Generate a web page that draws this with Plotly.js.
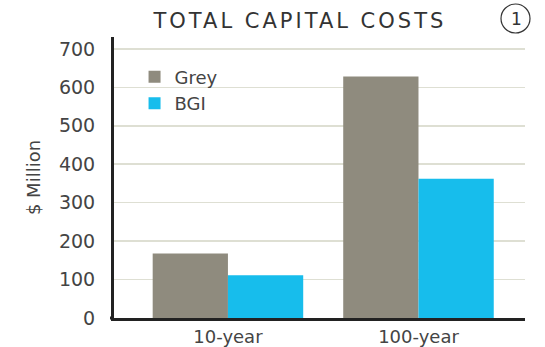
<!DOCTYPE html>
<html><head><meta charset="utf-8">
<script src="https://cdn.plot.ly/plotly-3.0.1.min.js"></script>
<style>html,body{margin:0;padding:0;background:#fff;}#chart{width:545px;height:347px;}</style>
</head><body><div id="chart"></div>
<script>
var categories = ["10-year", "100-year"];
var greyValues = [168, 628];
var bgiValues = [111, 362];
var yTicks = [0, 100, 200, 300, 400, 500, 600, 700];

var font = "'DejaVu Sans', sans-serif";
var traces = [
  {type:"bar", name:"Grey", x:categories, y:greyValues, marker:{color:"#8f8b7e"}},
  {type:"bar", name:"BGI", x:categories, y:bgiValues, marker:{color:"#17bdec"}}
];
var layout = {
  width:545, height:347,
  margin:{l:114, r:20, t:37, b:29},
  paper_bgcolor:"#fff", plot_bgcolor:"#fff",
  barmode:"group", bargap:0.21, bargroupgap:0,
  font:{family:font, color:"#444", size:18},
  showlegend:true,
  legend:{x:0.05, y:0.923, xanchor:"left", yanchor:"top", bgcolor:"rgba(0,0,0,0)",
          font:{size:18, color:"#444"}, itemwidth:30, tracegroupgap:0},
  xaxis:{type:"category", range:[-0.598, 1.559], showgrid:false, zeroline:false,
         showline:true, linecolor:"#222", linewidth:3, ticks:"", tickfont:{size:18, color:"#444"}},
  yaxis:{range:[0, 731], tickvals:yTicks, showgrid:true, gridcolor:"#dedfd3", gridwidth:1.5,
         zeroline:false, showline:true, linecolor:"#222", linewidth:3, ticks:"",
         ticklabelstandoff:12, tickfont:{size:19, color:"#444"},
         title:{text:"$ Million", font:{size:18, color:"#444"}, standoff:14}},
  annotations:[
    {text:"TOTAL CAPITAL COSTS", xref:"paper", yref:"paper", x:0.451, y:1, yanchor:"bottom", xanchor:"center",
     yshift:2, showarrow:false, font:{size:21, color:"#333", family:font}},
    {text:"1", xref:"paper", yref:"paper", x:1, y:1, xanchor:"center", yanchor:"bottom", xshift:-9, yshift:6,
     showarrow:false, font:{size:17, color:"#333", family:font}}
  ],
  shapes:[
    {type:"circle", xref:"paper", yref:"paper", xsizemode:"pixel", ysizemode:"pixel",
     xanchor:1, yanchor:1, x0:-24, x1:5, y0:4, y1:33, line:{color:"#333", width:1.2}},
    {type:"line", xref:"paper", yref:"paper", xsizemode:"pixel", xanchor:0, x0:-4, x1:0, y0:0, y1:0,
     line:{color:"#222", width:3}}
  ]
};
Plotly.newPlot("chart", traces, layout, {displayModeBar:false, staticPlot:true}).then(function(){
  var t = document.querySelectorAll('.annotation-text');
  if (t.length) { t[0].style.letterSpacing = '3px'; }
});
</script></body></html>
